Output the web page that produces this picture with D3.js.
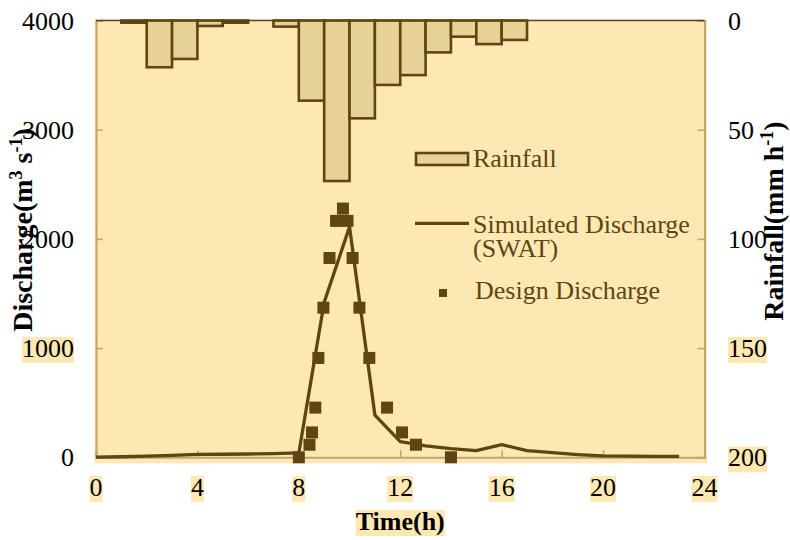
<!DOCTYPE html>
<html>
<head>
<meta charset="utf-8">
<script src="https://cdnjs.cloudflare.com/ajax/libs/d3/7.8.5/d3.min.js"></script>
<style>
  body { margin: 0; background: #fff; }
  svg text { font-family: 'Liberation Serif', 'Times New Roman', Times, serif; }
</style>
</head>
<body>
<svg id="chart" width="790" height="540"></svg>
<script>
'use strict';

// hourly simulated discharge (SWAT), m3/s
var simHours = [0, 1, 2, 3, 4, 5, 6, 7, 8, 9, 10, 11, 12, 13, 14, 15, 16, 17, 18, 19, 20, 21, 22, 23];
var simulated = [2, 5, 10, 18, 26, 28, 30, 34, 40, 1420, 2110, 387, 143, 105, 80, 62, 116, 62, 42, 25, 13, 10, 9, 8];

// design hydrograph points
var designTime = [8.0, 8.42, 8.52, 8.65, 8.77, 8.97, 9.21, 9.47, 9.74, 9.92, 10.12, 10.39, 10.78, 11.48, 12.07, 12.62, 14.0];
var designQ = [0, 115, 228, 455, 910, 1370, 1825, 2165, 2278, 2165, 1825, 1370, 910, 455, 228, 115, 0];

// hourly rainfall, bar i spans hour i..i+1 (mm/h)
var rainHours = [0, 1, 2, 3, 4, 5, 6, 7, 8, 9, 10, 11, 12, 13, 14, 15, 16];
var rainfall = [0, 1, 21.4, 17.6, 2.5, 1, 0, 2.8, 36.7, 73.5, 44.8, 29.5, 25, 14.6, 7.4, 10.8, 8.9];

var timeTicks = [0, 4, 8, 12, 16, 20, 24];
var dischargeTicks = [0, 1000, 2000, 3000, 4000];
var rainTicks = [0, 50, 100, 150, 200];

var BG = '#fde8b3', BAR = '#e6d296', DARK = '#5e4511', AXIS = '#bfa66c';
var FONT = "'Liberation Serif', 'Times New Roman', serif";

var svg = d3.select('#chart');
var L = 96, R = 704.5, T = 20.5, B = 457.3;

var x = d3.scaleLinear().domain([0, 24]).range([L, R]);
var y = d3.scaleLinear().domain([0, 4000]).range([B, T]);
var yR = d3.scaleLinear().domain([0, 200]).range([T, B]);

// plot background
svg.append('rect')
  .attr('x', L - 1.5).attr('y', T - 1).attr('width', R - L + 4).attr('height', B - T + 7)
  .attr('fill', BG);

// rainfall bars hang from the top
svg.append('g').selectAll('rect')
  .data(rainHours)
  .join('rect')
  .attr('x', function(d) { return x(d); })
  .attr('y', yR(0))
  .attr('width', function(d) { return x(d + 1) - x(d); })
  .attr('height', function(d, i) { return yR(rainfall[i]) - yR(0); })
  .attr('fill', BAR)
  .attr('stroke', DARK)
  .attr('stroke-width', 2.6);

// axes
var gx = svg.append('g').attr('transform', 'translate(0,' + B + ')')
  .call(d3.axisTop(x).tickValues(timeTicks).tickSize(7).tickFormat(''));
var gy = svg.append('g').attr('transform', 'translate(' + L + ',0)')
  .call(d3.axisRight(y).tickValues(dischargeTicks).tickSize(7).tickFormat(''));
var gy2 = svg.append('g').attr('transform', 'translate(' + R + ',0)')
  .call(d3.axisLeft(yR).tickValues(rainTicks).tickSize(7).tickFormat(''));
[gx, gy, gy2].forEach(function(g) {
  g.selectAll('path').attr('stroke', AXIS).attr('stroke-width', 2);
  g.selectAll('line').attr('stroke', AXIS).attr('stroke-width', 1.5);
});
svg.append('line')
  .attr('x1', L).attr('x2', R).attr('y1', T).attr('y2', T)
  .attr('stroke', DARK).attr('stroke-width', 1.5);

// simulated line
var line = d3.line()
  .x(function(d) { return x(d); })
  .y(function(d, i) { return y(simulated[i]); });
svg.append('path')
  .datum(simHours)
  .attr('d', line)
  .attr('fill', 'none')
  .attr('stroke', DARK)
  .attr('stroke-width', 3.3)
  .attr('stroke-linejoin', 'round');

// design discharge squares
var sq = 12;
svg.append('g').selectAll('rect')
  .data(designTime)
  .join('rect')
  .attr('x', function(d) { return x(d) - sq / 2; })
  .attr('y', function(d, i) { return y(designQ[i]) - sq / 2; })
  .attr('width', sq).attr('height', sq)
  .attr('fill', DARK);

// text with an optional highlight box behind it
function label(g, txt, px, py, anchor, hl, weight) {
  var t = g.append('text')
    .attr('x', px).attr('y', py)
    .attr('text-anchor', anchor)
    .attr('font-family', FONT)
    .attr('font-size', 26)
    .attr('font-weight', weight || 'normal')
    .attr('fill', '#000')
    .text(txt);
  if (hl) {
    var bb = t.node().getBBox();
    g.insert('rect', 'text')
      .attr('x', bb.x).attr('y', bb.y + 3).attr('width', bb.width).attr('height', bb.height - 3)
      .attr('fill', BG);
  }
  return t;
}

dischargeTicks.forEach(function(v) {
  label(svg.append('g'), String(v), 74, y(v) + 9, 'end', v === 1000);
});
rainTicks.forEach(function(v) {
  label(svg.append('g'), String(v), 728, yR(v) + 9, 'start', v >= 150);
});
timeTicks.forEach(function(v) {
  label(svg.append('g'), String(v), x(v), 496, 'middle', true);
});
label(svg.append('g'), 'Time(h)', x(12), 530, 'middle', true, 'bold');

// rotated axis titles
function rotTitle(cx, cy, parts) {
  var t = svg.append('text')
    .attr('transform', 'translate(' + cx + ',' + cy + ') rotate(-90)')
    .attr('text-anchor', 'middle')
    .attr('font-family', FONT)
    .attr('font-size', 28)
    .attr('font-weight', 'bold')
    .attr('fill', '#000');
  parts.forEach(function(p) {
    var s = t.append('tspan').text(p[0]);
    if (p[1]) s.attr('baseline-shift', 'super').attr('font-size', 18);
  });
}
rotTitle(32, 230, [['Discharge(m'], ['3', true], [' s'], ['-1', true], [')']]);
rotTitle(783, 221, [['Rainfall(mm h'], ['-1', true], [')']]);

// legend
var lg = svg.append('g').attr('fill', DARK).attr('font-size', 26).attr('font-family', FONT);
lg.append('rect')
  .attr('x', 416).attr('y', 153).attr('width', 52).attr('height', 12)
  .attr('fill', BAR).attr('stroke', DARK).attr('stroke-width', 2.6);
lg.append('text').attr('x', 473).attr('y', 166.5).text('Rainfall');
lg.append('line')
  .attr('x1', 415).attr('x2', 469).attr('y1', 223.3).attr('y2', 223.3)
  .attr('stroke', DARK).attr('stroke-width', 3.3);
lg.append('text').attr('x', 473).attr('y', 232.5).text('Simulated Discharge');
lg.append('text').attr('x', 473).attr('y', 256.5).text('(SWAT)');
lg.append('rect').attr('x', 439).attr('y', 289).attr('width', 8).attr('height', 8);
lg.append('text').attr('x', 475).attr('y', 299).text('Design Discharge');
</script>
</body>
</html>
